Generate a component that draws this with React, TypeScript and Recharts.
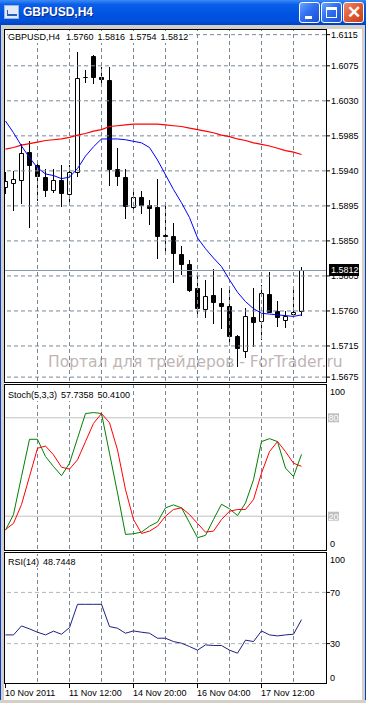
import React from 'react';
import { ComposedChart, Bar, Line, XAxis, YAxis, ReferenceLine } from 'recharts';

const FONT = "'Liberation Sans', Arial, sans-serif";
const GRID = '#778899';

// GBPUSD H4 bars (10 Nov 04:00 .. 18 Nov 08:00, 2011)
const opens = [
  1.5919, 1.5924, 1.5928, 1.5964, 1.5947, 1.5932, 1.5916, 1.5928, 1.591, 1.5938,
  1.606, 1.6088, 1.6061, 1.6057, 1.5943, 1.5932, 1.5894, 1.5907, 1.5896, 1.5894,
  1.5857, 1.5856, 1.5833, 1.582, 1.5789, 1.5762, 1.5781, 1.577, 1.5767, 1.5728,
  1.5709, 1.5752, 1.5747, 1.5782, 1.576, 1.5749, 1.5756, 1.576,
];
const highs = [
  1.5939, 1.594, 1.5975, 1.5979, 1.5953, 1.5943, 1.5943, 1.5947, 1.5948, 1.6093,
  1.6069, 1.6089, 1.6074, 1.6074, 1.597, 1.5943, 1.5913, 1.5914, 1.5903, 1.593,
  1.5898, 1.5873, 1.5843, 1.5826, 1.5807, 1.58, 1.5814, 1.5789, 1.5791, 1.5729,
  1.5764, 1.5789, 1.5793, 1.581, 1.5773, 1.576, 1.5788, 1.5816,
];
const lows = [
  1.591, 1.5888, 1.5898, 1.5867, 1.5901, 1.5906, 1.5912, 1.5893, 1.5896, 1.5932,
  1.6053, 1.6052, 1.6051, 1.5921, 1.5921, 1.5878, 1.5888, 1.5885, 1.587, 1.5827,
  1.5834, 1.5796, 1.5806, 1.5784, 1.5756, 1.5751, 1.5743, 1.5737, 1.572, 1.5688,
  1.5699, 1.5714, 1.5723, 1.5758, 1.5739, 1.5738, 1.5755, 1.5754,
];
const closes = [
  1.5927, 1.5929, 1.5963, 1.5947, 1.5933, 1.5916, 1.5928, 1.5911, 1.5938, 1.6059,
  1.6061, 1.606, 1.6058, 1.5942, 1.5933, 1.5895, 1.5907, 1.5896, 1.5892, 1.5856,
  1.5856, 1.5834, 1.582, 1.5787, 1.5764, 1.5779, 1.5771, 1.5766, 1.5728, 1.5712,
  1.5753, 1.5746, 1.5783, 1.5759, 1.5752, 1.5753, 1.5759, 1.5812,
];

// moving averages (red = slow, blue = fast)
const maSlow = [
  1.5968, 1.597, 1.5973, 1.5975, 1.5977, 1.5979, 1.598, 1.5981, 1.5983, 1.5986,
  1.5988, 1.5991, 1.5993, 1.5997, 1.5998, 1.5999, 1.6, 1.6, 1.6, 1.6,
  1.5999, 1.5998, 1.5997, 1.5995, 1.5993, 1.5991, 1.5989, 1.5986, 1.5984, 1.5981,
  1.5979, 1.5976, 1.5974, 1.5972, 1.5969, 1.5966, 1.5964, 1.5961,
];
const maFast = [
  1.6004, 1.5989, 1.5972, 1.5957, 1.5944, 1.5936, 1.5934, 1.593, 1.5932, 1.5943,
  1.5959, 1.5971, 1.5981, 1.5981, 1.5981, 1.598, 1.5978, 1.5976, 1.597, 1.5954,
  1.5935, 1.5916, 1.5899, 1.588, 1.5854, 1.584, 1.5828, 1.5817, 1.58, 1.5784,
  1.5772, 1.5763, 1.5757, 1.5756, 1.5755, 1.5754, 1.5753, 1.5755,
];

// Stoch(5,3,3)
const stochMain = [
  11.5, 21, 44.2, 66.9, 66.9, 56.4, 50.3, 44.7, 52.3, 67.5,
  82.6, 83.2, 82.6, 58.4, 34.2, 8.9, 9.3, 10.3, 13.9, 16.4,
  25.1, 26.9, 25.1, 16, 6.9, 8.3, 18, 27.3, 24.5, 20.4,
  28.1, 42.2, 65.5, 67.3, 65.5, 49.3, 44.2, 57.7,
];
const stochSignal = [
  11.9, 15.6, 27.1, 44.2, 61.4, 62.8, 57.4, 49.9, 48.7, 54.4,
  65.5, 76.6, 82.6, 77, 60.4, 36.2, 18, 9.5, 10.9, 13.9,
  20, 24.1, 25.1, 21, 15.6, 10.3, 10.9, 18, 23, 24.1,
  24.1, 30.1, 46.3, 59.4, 65.5, 59.4, 52.3, 50.4,
];

// RSI(14)
const rsi = [
  36.8, 36.8, 43.8, 41.5, 38.9, 36.8, 39.7, 37.3, 42.5, 60.7,
  60.7, 60.7, 60.7, 43.3, 42, 38.1, 39.9, 38.9, 38.1, 34.2,
  34.2, 31.6, 30.3, 27.7, 24.9, 29, 28.5, 28.5, 24.9, 22.5,
  32.7, 31.6, 39.9, 36.8, 36, 36.8, 37.3, 48.7,
];

const priceTicks = [1.5675, 1.5715, 1.576, 1.5805, 1.585, 1.5895, 1.594, 1.5985, 1.603, 1.6075, 1.6115];
const gridBars = [4, 8, 12, 16, 20, 24, 28, 32, 36];
const timeBars = [0, 8, 16, 24, 32];
const timeLabels = ['10 Nov 2011', '11 Nov 12:00', '14 Nov 20:00', '16 Nov 04:00', '17 Nov 12:00'];

const rows = opens.map((o, i) => ({
  i,
  open: o,
  high: highs[i],
  low: lows[i],
  close: closes[i],
  slow: maSlow[i],
  fast: maFast[i],
  k: stochMain[i],
  d: stochSignal[i],
  rsi: rsi[i],
}));

function Candle(props: any) {
  const { x, y, width, height, payload } = props;
  if (!payload) return null;
  const cx = Math.floor(x + width / 2) + 0.5;
  const top = Math.min(y, y + height);
  const h = Math.abs(height);
  const toY = (p: number) => top + ((payload.high - p) / (payload.high - payload.low)) * h;
  const yo = Math.round(toY(payload.open)) + 0.5;
  const yc = Math.round(toY(payload.close)) + 0.5;
  const y1 = Math.min(yo, yc);
  const y2 = Math.max(yo, yc);
  const bull = payload.close > payload.open;
  return (
    <g>
      <line x1={cx} x2={cx} y1={Math.round(top)} y2={Math.round(top + h)} stroke="#000" />
      <path
        d={`M${cx - 2},${y1}H${cx + 2}V${y2}H${cx - 2}Z`}
        fill={bull ? '#fff' : '#000'}
        stroke="#000"
      />
    </g>
  );
}

// black tag on the price scale for the last close; it hides part of the 1.5805 label, as in MT4
function PriceTag(props: any) {
  const vb = props.viewBox || {};
  const yy = Math.round(vb.y);
  const x0 = vb.x + vb.width + 3;
  return (
    <g>
      <rect x={x0} y={yy - 6} width={30} height={12} fill="#000" />
      <text x={x0 + 2} y={yy + 3.3} fill="#fff" fontSize={9} fontFamily={FONT}>
        {closes[closes.length - 1].toFixed(4)}
      </text>
    </g>
  );
}

function StochTick(props: any) {
  const { x, y, payload } = props;
  const v = payload.value;
  if (v === 80 || v === 20) {
    return (
      <g>
        <rect x={x + 2} y={y - 4.5} width={11} height={9} fill="#c0c0c0" />
        <text x={x + 2.5} y={y + 3.3} fill="#fff" fontSize={9} fontFamily={FONT}>{v}</text>
      </g>
    );
  }
  const dy = v === 100 ? 6.7 : -5.7;
  return (
    <text x={x + 4} y={y + dy + 3.3} fill="#000" fontSize={9} fontFamily={FONT}>{v}</text>
  );
}

function RsiTick(props: any) {
  const { x, y, payload } = props;
  const v = payload.value;
  const dy = v === 100 ? 5.3 : v === 0 ? -4.7 : 0;
  return (
    <g>
      {(v === 70 || v === 30) && <line x1={x} x2={x + 4} y1={y} y2={y} stroke="#000" />}
      <text x={x + 4} y={y + dy + 3.3} fill="#000" fontSize={9} fontFamily={FONT}>{v}</text>
    </g>
  );
}

function TimeTick(props: any) {
  const { x, y, payload } = props;
  const k = timeBars.indexOf(payload.value);
  const tx = Math.floor(x) + 0.5;
  return (
    <g>
      <line x1={tx} x2={tx} y1={y + 2} y2={y + 6} stroke="#000" />
      <text x={tx - 0.5} y={y + 14} fill="#000" fontSize={9} fontFamily={FONT}>{timeLabels[k]}</text>
    </g>
  );
}

const abs = (l: number, t: number, w: number, h: number): React.CSSProperties => ({
  position: 'absolute',
  left: l,
  top: t,
  width: w,
  height: h,
  boxSizing: 'border-box',
});

function TitleButton({ left, close, children }: { left: number; close?: boolean; children: React.ReactNode }) {
  return (
    <div
      style={{
        ...abs(left, 2, 21, 21),
        border: '1px solid #fff',
        borderRadius: 3,
        background: close
          ? 'linear-gradient(135deg, #f08a6a 0%, #e25c35 45%, #c8401c 100%)'
          : 'linear-gradient(135deg, #6aa2ff 0%, #2f6ff0 45%, #1a52d6 100%)',
      }}
    >
      {children}
    </div>
  );
}

export default function App() {
  const header: React.CSSProperties = {
    position: 'absolute',
    background: '#fff',
    fontFamily: FONT,
    fontSize: 9,
    lineHeight: '11px',
    color: '#000',
    whiteSpace: 'pre',
  };
  return (
    <div style={{ ...abs(0, 0, 366, 703), background: '#fff', overflow: 'hidden' }}>
      {/* title bar */}
      <div
        style={{
          ...abs(0, 0, 366, 25),
          background: 'linear-gradient(#3d8bf7 0%, #0a5ee8 18%, #0054e3 55%, #0050da 85%, #0042c0 100%)',
        }}
      >
        <div style={{ ...abs(4, 5, 15, 14), background: '#dfe9f7', border: '1px solid #9ab4de' }}>
          <div style={{ ...abs(2, 4, 10, 6), borderBottom: '2px solid #2a5bb8', borderLeft: '1px solid #2a5bb8' }} />
        </div>
        <div
          style={{
            position: 'absolute',
            left: 23,
            top: 5,
            color: '#fff',
            fontFamily: FONT,
            fontWeight: 'bold',
            fontSize: 12,
            lineHeight: '15px',
            textShadow: '1px 1px 0 #0a2a8a',
          }}
        >
          GBPUSD,H4
        </div>
        <TitleButton left={299}>
          <div style={{ ...abs(5, 13, 7, 3), background: '#fff' }} />
        </TitleButton>
        <TitleButton left={321}>
          <div style={{ ...abs(4, 4, 11, 11), border: '1px solid #fff', borderTopWidth: 3 }} />
        </TitleButton>
        <TitleButton left={343} close>
          <div style={{ position: 'absolute', left: 3, top: 0, color: '#fff', fontFamily: FONT, fontSize: 17, fontWeight: 'bold', lineHeight: '19px' }}>
            ✕
          </div>
        </TitleButton>
      </div>

      {/* watermark */}
      <div
        style={{
          position: 'absolute',
          left: 48,
          top: 352,
          fontFamily: "'DejaVu Sans', sans-serif",
          fontSize: 15.5,
          lineHeight: '20px',
          color: '#bfb5b5',
          whiteSpace: 'nowrap',
        }}
      >
        Портал для трейдеров - ForTrader.ru
      </div>

      {/* price window */}
      <div style={{ position: 'absolute', left: 0, top: 30 }}>
        <ComposedChart width={366} height={351} data={rows} margin={{ top: 0, right: 0, bottom: 0, left: 1.5 }}>
          <XAxis dataKey="i" hide padding={{ left: 0, right: 20.5 }} />
          <YAxis
            orientation="right"
            type="number"
            domain={[1.567, 1.6121]}
            allowDataOverflow
            ticks={priceTicks}
            interval={0}
            width={40}
            axisLine={false}
            tickSize={4}
            tickMargin={1}
            tickLine={{ stroke: '#000' }}
            tick={{ fontSize: 9, fill: '#000', fontFamily: FONT }}
            tickFormatter={(v: number) => v.toFixed(4)}
          />
          {priceTicks.map((p) => (
            <ReferenceLine key={p} y={p} stroke={GRID} strokeDasharray="4 3" />
          ))}
          {gridBars.map((i) => (
            <ReferenceLine key={'v' + i} x={i} stroke={GRID} strokeDasharray="4 3" />
          ))}
          <ReferenceLine y={closes[closes.length - 1]} stroke="#8a98a8" label={<PriceTag />} />
          <Bar dataKey={(d: any) => [d.low, d.high]} shape={<Candle />} isAnimationActive={false} />
          <Line dataKey="slow" stroke="#ff0000" strokeWidth={1.2} dot={false} activeDot={false} isAnimationActive={false} />
          <Line dataKey="fast" stroke="#0000ff" strokeWidth={1} dot={false} activeDot={false} isAnimationActive={false} />
        </ComposedChart>
      </div>

      {/* stochastic window */}
      <div style={{ position: 'absolute', left: 0, top: 385 }}>
        <ComposedChart width={366} height={164} data={rows} margin={{ top: 0, right: 0, bottom: 0, left: 1.5 }}>
          <XAxis dataKey="i" hide padding={{ left: 4, right: 24.5 }} />
          <YAxis
            orientation="right"
            type="number"
            domain={[0, 100]}
            ticks={[0, 20, 80, 100]}
            interval={0}
            width={40}
            axisLine={false}
            tickLine={false}
            tickSize={0}
            tickMargin={0}
            tick={<StochTick />}
          />
          {gridBars.map((i) => (
            <ReferenceLine key={'v' + i} x={i} stroke={GRID} strokeDasharray="4 3" />
          ))}
          <ReferenceLine y={80} stroke="#c0c0c0" />
          <ReferenceLine y={20} stroke="#c0c0c0" />
          <Line dataKey="k" stroke="#008000" strokeWidth={1} dot={false} activeDot={false} isAnimationActive={false} />
          <Line dataKey="d" stroke="#ff0000" strokeWidth={1} dot={false} activeDot={false} isAnimationActive={false} />
        </ComposedChart>
      </div>

      {/* RSI window + time axis */}
      <div style={{ position: 'absolute', left: 0, top: 554 }}>
        <ComposedChart width={366} height={149} data={rows} margin={{ top: 0, right: 0, bottom: 0, left: 1.5 }}>
          <XAxis
            dataKey="i"
            padding={{ left: 4, right: 24.5 }}
            ticks={timeBars}
            interval={0}
            height={21}
            axisLine={false}
            tickLine={false}
            tickSize={0}
            tickMargin={0}
            tick={<TimeTick />}
          />
          <YAxis
            orientation="right"
            type="number"
            domain={[0, 100]}
            ticks={[0, 30, 70, 100]}
            interval={0}
            width={40}
            axisLine={false}
            tickLine={false}
            tickSize={0}
            tickMargin={0}
            tick={<RsiTick />}
          />
          {gridBars.map((i) => (
            <ReferenceLine key={'v' + i} x={i} stroke={GRID} strokeDasharray="4 3" />
          ))}
          <ReferenceLine y={70} stroke="#b4b4b4" strokeDasharray="4 3" />
          <ReferenceLine y={30} stroke="#b4b4b4" strokeDasharray="4 3" />
          <Line dataKey="rsi" stroke="#202080" strokeWidth={1} dot={false} activeDot={false} isAnimationActive={false} />
        </ComposedChart>
      </div>

      {/* window headers */}
      <div style={{ ...header, left: 8, top: 32 }}>
        <span>GBPUSD,H4</span>
        <span style={{ marginLeft: 6 }}>{opens[37].toFixed(4)}</span>
        <span style={{ marginLeft: 4 }}>{highs[37].toFixed(4)}</span>
        <span style={{ marginLeft: 4 }}>{lows[37].toFixed(4)}</span>
        <span style={{ marginLeft: 4 }}>{closes[37].toFixed(4)}</span>
      </div>
      <div style={{ ...header, left: 8, top: 390 }}>
        <span>Stoch(5,3,3)</span>
        <span style={{ marginLeft: 4 }}>57.7358</span>
        <span style={{ marginLeft: 4 }}>50.4100</span>
      </div>
      <div style={{ ...header, left: 8, top: 557 }}>
        <span>RSI(14)</span>
        <span style={{ marginLeft: 4 }}>48.7448</span>
      </div>

      {/* sub-window frames */}
      <div style={{ ...abs(4, 29, 323, 354), border: '1px solid #000' }} />
      <div style={{ ...abs(4, 384, 323, 167), border: '1px solid #000' }} />
      <div style={{ ...abs(4, 552, 323, 132), border: '1px solid #000' }} />

      {/* window border */}
      <div style={{ ...abs(0, 25, 366, 4), background: '#d4d0c8' }} />
      <div style={{ ...abs(0, 25, 4, 678), background: '#d4d0c8', borderLeft: '1px solid #0040c8' }} />
      <div style={{ ...abs(362, 25, 4, 678), background: '#d4d0c8', borderRight: '1px solid #0040c8' }} />
      <div style={{ ...abs(0, 700, 366, 3), background: '#d4d0c8' }} />
    </div>
  );
}
